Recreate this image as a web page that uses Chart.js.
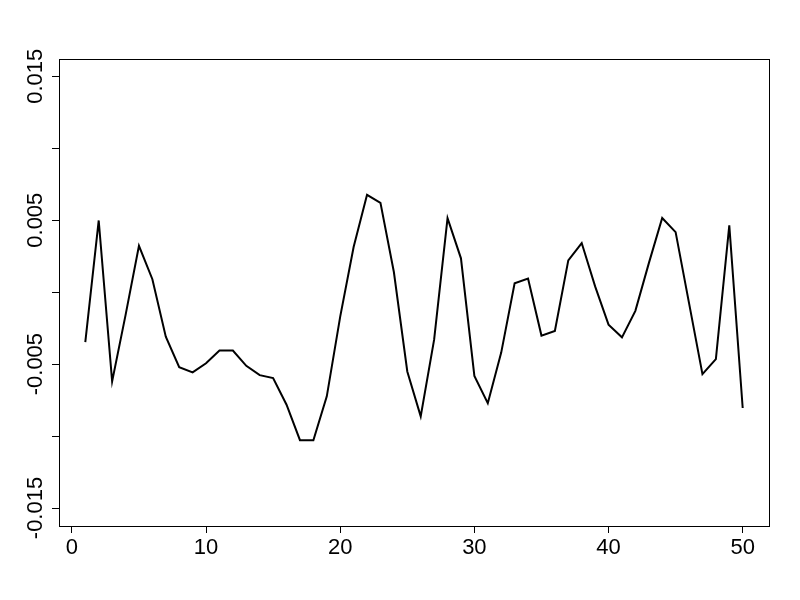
<!DOCTYPE html>
<html>
<head>
<meta charset="utf-8">
<script src="https://cdn.jsdelivr.net/npm/chart.js@4.4.1/dist/chart.umd.min.js"></script>
<style>
  html, body { margin: 0; padding: 0; background: #fff; }
  canvas { display: block; }
</style>
</head>
<body>
<canvas id="mycanvas" width="800" height="600"></canvas>
<script>
// series
var xs = [];
for (var i = 1; i <= 50; i++) xs.push(i);
var values = [
  -0.00348, 0.00498, -0.00620, -0.00160, 0.00322, 0.00090, -0.00309, -0.00521, -0.00558, -0.00494,
  -0.00406, -0.00406, -0.00512, -0.00577, -0.00597, -0.00782, -0.01029, -0.01029, -0.00724, -0.00170,
  0.00314, 0.00676, 0.00621, 0.00140, -0.00551, -0.00863, -0.00330, 0.00514, 0.00235, -0.00582,
  -0.00772, -0.00420, 0.00062, 0.00095, -0.00302, -0.00270, 0.00221, 0.00341, 0.00040, -0.00226,
  -0.00314, -0.00130, 0.00200, 0.00515, 0.00417, -0.00076, -0.00570, -0.00465, 0.00464, -0.00805
];
var xTicks = [0, 10, 20, 30, 40, 50];
var yTicks = [-0.015, -0.01, -0.005, 0, 0.005, 0.01, 0.015];
var yLabels = [-0.015, -0.005, 0.005, 0.015];

var FONT = "'Liberation Sans', Arial, sans-serif";

var points = [];
for (var j = 0; j < xs.length; j++) points.push({x: xs[j], y: values[j]});

var boxPlugin = {
  id: 'box',
  afterDraw: function(chart) {
    var ctx = chart.ctx, a = chart.chartArea;
    ctx.save();
    ctx.strokeStyle = '#000';
    ctx.lineWidth = 1;
    ctx.strokeRect(Math.round(a.left) + 0.5, Math.round(a.top) + 0.5,
                   Math.round(a.right - a.left), Math.round(a.bottom - a.top));
    // y labels, rotated like R's axis(2)
    var ys = chart.scales.y;
    ctx.fillStyle = '#000';
    ctx.font = '22px ' + FONT;
    ctx.textAlign = 'center';
    ctx.textBaseline = 'alphabetic';
    yLabels.forEach(function(v) {
      var py = ys.getPixelForValue(v);
      ctx.save();
      ctx.translate(42, py);
      ctx.rotate(-Math.PI / 2);
      ctx.fillText(String(v), 0, 0);
      ctx.restore();
    });
    ctx.restore();
  }
};

new Chart(document.getElementById('mycanvas'), {
  type: 'line',
  data: {
    datasets: [{
      data: points,
      borderColor: '#000',
      borderWidth: 2,
      pointRadius: 0,
      tension: 0,
      fill: false
    }]
  },
  options: {
    responsive: false,
    animation: false,
    devicePixelRatio: 1,
    layout: { padding: { top: 59, right: 31, left: 0, bottom: 0 } },
    plugins: { legend: { display: false }, tooltip: { enabled: false } },
    scales: {
      x: {
        type: 'linear',
        min: -0.96,
        max: 51.96,
        afterBuildTicks: function(s) { s.ticks = xTicks.map(function(v) { return {value: v}; }); },
        afterFit: function(s) { s.height = 74; },
        grid: { drawOnChartArea: false, drawTicks: true, tickLength: 7, color: '#000', lineWidth: 1 },
        border: { display: false },
        ticks: { color: '#000', font: { family: FONT, size: 22 }, padding: 2, maxRotation: 0, autoSkip: false }
      },
      y: {
        min: -0.01625,
        max: 0.0162,
        afterBuildTicks: function(s) { s.ticks = yTicks.map(function(v) { return {value: v}; }); },
        afterFit: function(s) { s.width = 59; },
        grid: { drawOnChartArea: false, drawTicks: true, tickLength: 7, color: '#000', lineWidth: 1 },
        border: { display: false },
        ticks: { callback: function() { return ''; }, autoSkip: false }
      }
    }
  },
  plugins: [boxPlugin]
});
</script>
</body>
</html>
